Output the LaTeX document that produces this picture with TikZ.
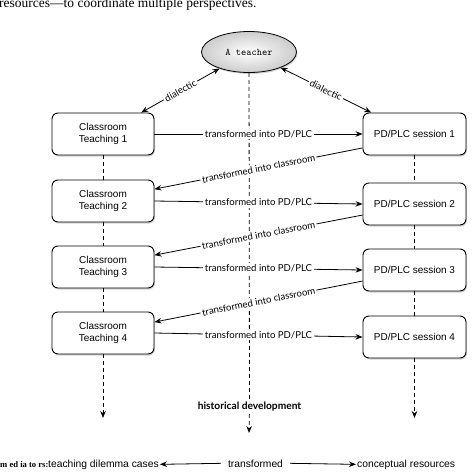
\documentclass[tikz,border=0pt]{standalone}
\usepackage{fontspec}
\setmainfont{Liberation Sans}
\newfontfamily\lbl{Lato}
\newfontfamily\capf{Liberation Serif}
\usetikzlibrary{arrows.meta,shapes.geometric,shadows}
\begin{document}
\begin{tikzpicture}[x=1pt,y=-1pt,
  box/.style={draw, line width=0.9pt, rounded corners=6pt, fill=white,
    minimum height=42pt, align=center, inner sep=2pt,
    font=\fontsize{10}{12}\selectfont,
    drop shadow={shadow xshift=1pt, shadow yshift=-1.5pt, opacity=0.35}},
  lbox/.style={box, minimum width=102pt},
  rbox/.style={box, minimum width=103pt},
  tip/.style={-{Stealth[length=7pt,width=5.5pt]}},
  con/.style={line width=0.8pt, tip},
  lab/.style={font=\lbl\fontsize{9.6}{11}\selectfont, fill=white, inner sep=1.5pt},
  dsh/.style={dash pattern=on 4pt off 3pt, line width=0.8pt},
  bt/.style={font=\fontsize{10.3}{12}\selectfont, inner ysep=2pt},
  ]
\useasboundingbox (0,0) rectangle (474,475);

% caption
\node[font=\capf\fontsize{13.5}{15}\selectfont, anchor=base west, inner sep=0] (cap) at (-1,7.5) {resources—to coordinate multiple perspectives.};

% teacher
\node[ellipse, draw, line width=0.8pt, minimum width=95pt, minimum height=41pt, inner sep=0,
  shading=radial, inner color=white, outer color=gray!40,
  drop shadow={shadow xshift=1pt, shadow yshift=-1.5pt, opacity=0.35},
  font=\ttfamily\fontsize{10}{12}\selectfont] (t) at (249,52) {A teacher};

% boxes
\node[lbox] (c1) at (103,134) {Classroom\\Teaching 1};
\node[lbox] (c2) at (103,201) {Classroom\\Teaching 2};
\node[lbox] (c3) at (103,267) {Classroom\\Teaching 3};
\node[lbox] (c4) at (103,333) {Classroom\\Teaching 4};
\node[rbox] (p1) at (414.5,134) {PD/PLC session 1};
\node[rbox] (p2) at (414.5,204) {PD/PLC session 2};
\node[rbox] (p3) at (414.5,270) {PD/PLC session 3};
\node[rbox] (p4) at (414.5,337) {PD/PLC session 4};

% historical development
\node[font=\lbl\bfseries\fontsize{10.2}{12}\selectfont, inner sep=2pt] (hd) at (249.5,407) {historical development};
\coordinate (lend) at (103,418);
\coordinate (rend) at (414.5,418);
\coordinate (hdend) at (249,433);

% dashed lines
\draw[dsh] (t) -- (hd);
\draw[dsh, tip] (hd) -- (hdend);
\draw[dsh] (c1) -- (c2);
\draw[dsh] (c2) -- (c3);
\draw[dsh] (c3) -- (c4);
\draw[dsh, tip] (c4) -- (lend);
\draw[dsh] (p1) -- (p2);
\draw[dsh] (p2) -- (p3);
\draw[dsh] (p3) -- (p4);
\draw[dsh, tip] (p4) -- (rend);

% dialectic
\draw[line width=0.8pt, {Stealth[length=7pt,width=5.5pt]}-{Stealth[length=7pt,width=5.5pt]}] (t) -- node[lab, sloped] {dialectic} (c1);
\draw[line width=0.8pt, {Stealth[length=7pt,width=5.5pt]}-{Stealth[length=7pt,width=5.5pt]}] (t) -- node[lab, sloped] {dialectic} (p1);

% transformed into PD/PLC
\draw[con] (c1.east) -- node[lab] {transformed into PD/PLC} (p1.west);
\draw[con] (c2.east) -- node[lab] {transformed into PD/PLC} (p2.west);
\draw[con] (c3.east) -- node[lab] {transformed into PD/PLC} (p3.west);
\draw[con] (c4.east) -- node[lab] {transformed into PD/PLC} (p4.west);

% transformed into classroom
\draw[con] (p1.195) -- node[lab, sloped] {transformed into classroom} (c2.13);
\draw[con] (p2.192) -- node[lab, sloped] {transformed into classroom} (c3.13);
\draw[con] (p3.192) -- node[lab, sloped] {transformed into classroom} (c4.12);

% mediators row
\node[font=\capf\bfseries\fontsize{8.6}{10}\selectfont, anchor=base west, inner sep=0] (med) at (0,467) {m ed ia to rs:};
\node[bt, anchor=base west, inner xsep=1pt] (tdc) at (47,467) {teaching dilemma cases};
\node[bt, anchor=base, inner xsep=7pt] (tr) at (255.5,467) {transformed};
\node[bt, anchor=base west, inner xsep=1pt] (cr) at (356,467) {conceptual resources};
\draw[con] (tr.west) -- (tdc.east);
\draw[con] (tr.east) -- (cr.west);
\end{tikzpicture}
\end{document}
